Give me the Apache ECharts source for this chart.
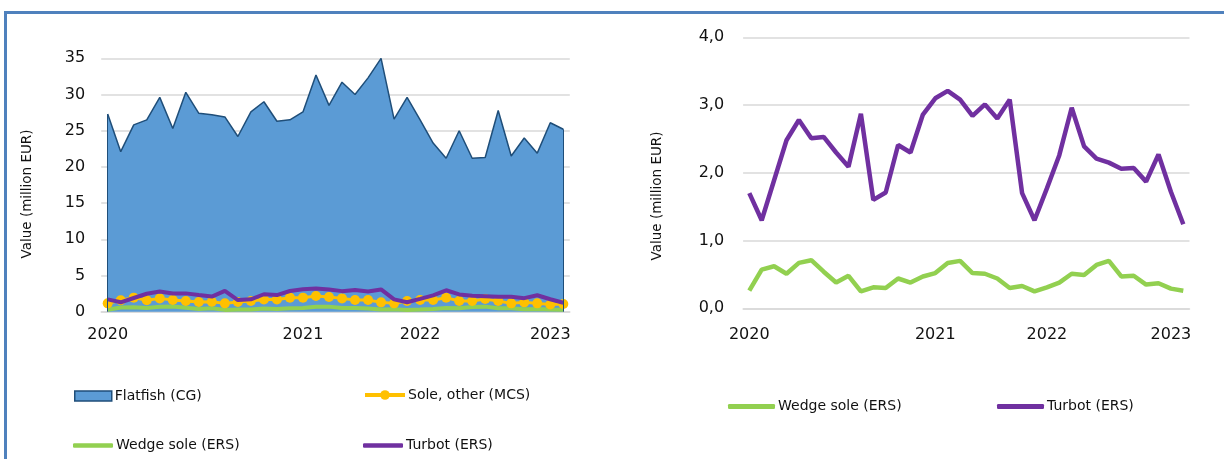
<!DOCTYPE html>
<html>
<head>
<meta charset="utf-8">
<script src="https://cdn.jsdelivr.net/npm/echarts@6/dist/echarts.min.js"></script>
<style>
html,body{margin:0;padding:0;background:#fff;}
#chart{width:1224px;height:459px;}
</style>
</head>
<body>
<div id="chart"></div>
<script>
// X tick labels (one entry per month, Jan 2020 .. Dec 2022)
const xLabels = ['2020','','','','','','','','','','','','','','','2021','','','','','','','','','2022','','','','','','','','','','2023',''];

// Values, million EUR
const flatfishCG = [27.3,22.1,25.8,26.5,29.6,25.3,30.3,27.4,27.2,26.9,24.2,27.6,29.0,26.3,26.5,27.6,32.7,28.5,31.7,30.0,32.3,35.0,26.6,29.6,26.5,23.3,21.2,25.0,21.2,21.3,27.8,21.5,24.0,21.9,26.1,25.2];
const soleOtherMCS = [1.15,1.57,1.94,1.57,1.84,1.61,1.47,1.34,1.38,1.15,1.34,1.47,1.70,1.70,1.94,1.94,2.17,2.03,1.84,1.61,1.61,1.29,1.15,1.47,1.61,1.61,1.94,1.47,1.47,1.75,1.47,1.15,1.29,1.15,1.00,1.06];
const wedgeSoleERS = [0.26,0.57,0.62,0.51,0.67,0.71,0.54,0.38,0.48,0.25,0.31,0.30,0.44,0.38,0.47,0.52,0.67,0.70,0.52,0.51,0.44,0.30,0.33,0.25,0.31,0.38,0.51,0.49,0.64,0.70,0.47,0.48,0.35,0.37,0.29,0.26];
const turbotERS = [1.70,1.30,1.89,2.48,2.78,2.51,2.53,2.30,2.09,2.87,1.60,1.71,2.41,2.30,2.86,3.10,3.21,3.08,2.84,3.01,2.80,3.08,1.70,1.30,1.77,2.26,2.96,2.39,2.21,2.15,2.06,2.07,1.87,2.27,1.72,1.24];

const leftTicks = {min:0, max:35, interval:5};
const rightTicks = {min:0, max:4, interval:1};

const FONT = 'DejaVu Sans';
const C_FLAT = '#5b9bd5', C_FLAT_LINE = '#1f4e79', C_SOLE = '#ffc000', C_WEDGE = '#92d050', C_TURBOT = '#7030a0';
const GRID_C = '#d9d9d9';

const chart = echarts.init(document.getElementById('chart'), null, {renderer:'canvas'});

function xAxisCfg(gridIndex, margin){
  return {
    type:'category', gridIndex, data:xLabels, boundaryGap:true,
    axisLine:{show:true, lineStyle:{color:GRID_C, width:1.5}},
    axisTick:{show:false},
    axisLabel:{interval:0, margin, color:'#111', fontFamily:FONT, fontSize:16, hideOverlap:false},
    splitLine:{show:false}
  };
}
function yAxisCfg(gridIndex, t, fmt, margin){
  return {
    type:'value', gridIndex, min:t.min, max:t.max, interval:t.interval,
    axisLine:{show:false}, axisTick:{show:false},
    axisLabel:{margin, color:'#111', fontFamily:FONT, fontSize:16, formatter:fmt},
    splitLine:{show:true, lineStyle:{color:GRID_C, width:1.5}}
  };
}

const lastIdx = flatfishCG.length - 1;

function legend(item, left, top, w, h, extra){
  return Object.assign({
    data:[item], left, top, orient:'horizontal', padding:0, itemGap:0,
    itemWidth:w, itemHeight:h, selectedMode:false,
    textStyle:{fontFamily:FONT, fontSize:14, color:'#111', padding:[0,0,0,-2]}
  }, extra||{});
}

const option = {
  animation:false,
  backgroundColor:'#fff',
  grid:[
    {left:101.2, right:654.2, top:58.3, bottom:147.3},
    {left:743.1, right:34.5, top:37.3, bottom:150.7}
  ],
  xAxis:[xAxisCfg(0, 15), xAxisCfg(1, 19)],
  yAxis:[
    yAxisCfg(0, leftTicks, v => String(v), 16),
    yAxisCfg(1, rightTicks, v => v.toFixed(1).replace('.', ','), 19)
  ],
  legend:[
    legend({name:'Flatfish (CG)', icon:'rect', itemStyle:{color:C_FLAT, borderColor:C_FLAT_LINE, borderWidth:1.5}}, 74, 389, 37, 10),
    legend({name:'Sole, other (MCS)'}, 363, 388, 40, 12, {lineStyle:{width:4, color:C_SOLE}, itemStyle:{color:C_SOLE, borderWidth:0}}),
    legend({name:'Wedge sole (ERS)', icon:'roundRect', itemStyle:{color:C_WEDGE, borderWidth:0}}, 73, 438.5, 40, 4.5),
    legend({name:'Turbot (ERS)', icon:'roundRect', itemStyle:{color:C_TURBOT, borderWidth:0}}, 363, 438.5, 40, 4.5),
    legend({name:'Wedge sole (ERS)', icon:'roundRect', itemStyle:{color:C_WEDGE, borderWidth:0}}, 728, 399.5, 47, 5),
    legend({name:'Turbot (ERS)', icon:'roundRect', itemStyle:{color:C_TURBOT, borderWidth:0}}, 997, 399.5, 47, 5)
  ],
  graphic:[
    {type:'rect', shape:{x:4, y:11, width:1224, height:3}, style:{fill:'#4f81bd'}, silent:true},
    {type:'rect', shape:{x:4, y:11, width:3, height:460}, style:{fill:'#4f81bd'}, silent:true},
    {type:'text', x:27, y:194, rotation:Math.PI/2, style:{text:'Value (million EUR)', fontFamily:FONT, fontSize:13.5, fill:'#111', align:'center', verticalAlign:'middle'}},
    {type:'text', x:657, y:196, rotation:Math.PI/2, style:{text:'Value (million EUR)', fontFamily:FONT, fontSize:13.5, fill:'#111', align:'center', verticalAlign:'middle'}}
  ],
  series:[
    {
      name:'Flatfish (CG)', type:'line', xAxisIndex:0, yAxisIndex:0, data:flatfishCG,
      symbol:'none', lineStyle:{color:C_FLAT_LINE, width:1.5}, itemStyle:{color:C_FLAT},
      areaStyle:{color:C_FLAT, opacity:1}, z:1,
      markLine:{
        silent:true, symbol:'none', label:{show:false},
        lineStyle:{color:C_FLAT_LINE, width:1, type:'solid'},
        data:[
          [{coord:[0,0]},{coord:[0,flatfishCG[0]]}],
          [{coord:[lastIdx,0]},{coord:[lastIdx,flatfishCG[lastIdx]]}]
        ]
      }
    },
    {
      name:'Wedge sole (ERS)', type:'line', xAxisIndex:0, yAxisIndex:0, data:wedgeSoleERS,
      symbol:'none', lineStyle:{color:C_WEDGE, width:4}, itemStyle:{color:C_WEDGE}, z:2
    },
    {
      name:'Sole, other (MCS)', type:'line', xAxisIndex:0, yAxisIndex:0, data:soleOtherMCS,
      symbol:'circle', symbolSize:10, showSymbol:true,
      lineStyle:{color:C_SOLE, width:3}, itemStyle:{color:C_SOLE, borderWidth:0}, z:3
    },
    {
      name:'Turbot (ERS)', type:'line', xAxisIndex:0, yAxisIndex:0, data:turbotERS,
      symbol:'none', lineStyle:{color:C_TURBOT, width:4}, itemStyle:{color:C_TURBOT}, z:4
    },
    {
      name:'Wedge sole (ERS)', type:'line', xAxisIndex:1, yAxisIndex:1, data:wedgeSoleERS,
      symbol:'none', lineStyle:{color:C_WEDGE, width:4.5}, itemStyle:{color:C_WEDGE}
    },
    {
      name:'Turbot (ERS)', type:'line', xAxisIndex:1, yAxisIndex:1, data:turbotERS,
      symbol:'none', lineStyle:{color:C_TURBOT, width:4.5}, itemStyle:{color:C_TURBOT}
    }
  ]
};
chart.setOption(option);
</script>
</body>
</html>
